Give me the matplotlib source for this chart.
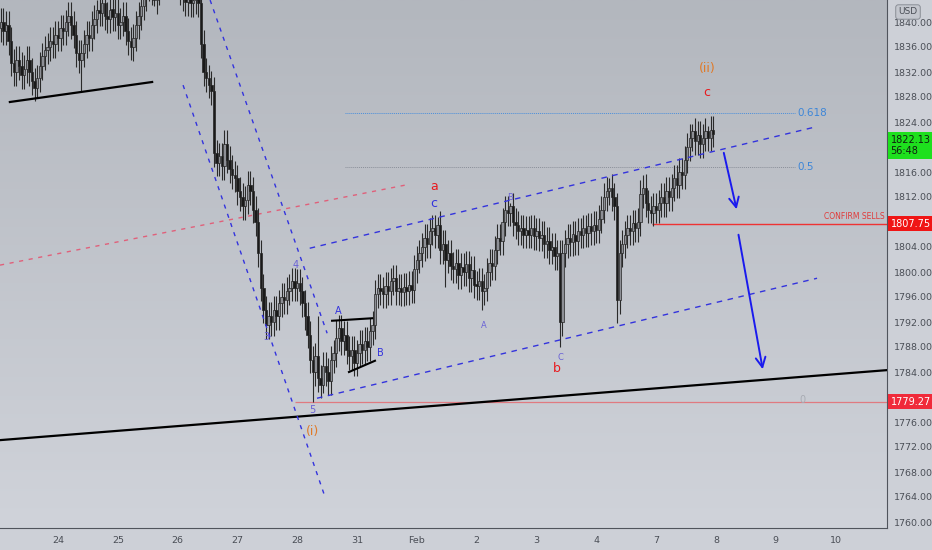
import numpy as np
import matplotlib
matplotlib.use("Agg")
import matplotlib.pyplot as plt
from matplotlib import transforms
from matplotlib.colors import LinearSegmentedColormap

plt.rcParams['font.family'] = ['DejaVu Sans Condensed', 'Liberation Sans Narrow', 'DejaVu Sans']

# ---- data (hourly closes, bar 0 = Jan 21) ----
closes = [
    1840, 1838.5, 1839.5, 1837, 1833.5, 1832, 1834, 1833, 1831.5, 1832.5,
    1834, 1832, 1830.5, 1829.5, 1831, 1833, 1834.5, 1835.5, 1836, 1837,
    1836.5, 1838, 1837.5, 1839, 1838.5, 1840, 1841, 1839.5, 1838, 1835,
    1834, 1835, 1836.5, 1838, 1837.5, 1839.5, 1840.5, 1842, 1841.5, 1843,
    1841, 1840.5, 1842, 1840.8, 1841.5, 1839.5, 1840, 1841, 1838.5, 1837,
    1836, 1837.5, 1839.5, 1841, 1842.5, 1844, 1845.5, 1846.5, 1845, 1843.5,
    1845, 1846.5, 1848, 1849, 1848, 1847, 1848.5, 1847, 1846, 1845,
    1844, 1843.2, 1844, 1843, 1843.5, 1844.2, 1843, 1836.5, 1832, 1831,
    1830, 1829, 1819, 1817.5, 1818.5, 1817, 1820.5, 1818, 1816.5, 1815.5,
    1815, 1813, 1812, 1810.5, 1811.5, 1814, 1813, 1810, 1808, 1803,
    1797.5, 1794, 1791.5, 1793, 1792, 1794, 1793, 1795, 1796, 1795.5,
    1797, 1797.5, 1798.5, 1797.5, 1798.3, 1797, 1795, 1793, 1790, 1786,
    1784, 1786.5, 1783, 1782, 1785, 1784, 1782.5, 1786, 1787, 1789.5,
    1791, 1789, 1790, 1787.5, 1786.5, 1787.5, 1785.5, 1787, 1788.5, 1787.5,
    1789, 1788, 1790.5, 1791.5, 1796.5, 1797.5, 1797, 1796.5, 1797.8, 1797,
    1798.5, 1799, 1797, 1797.5, 1796.8, 1797.6, 1797, 1798, 1797.2, 1800.5,
    1802, 1803, 1804, 1805.5, 1804.5, 1806.5, 1807, 1806, 1807.5, 1803.5,
    1804.5, 1802, 1803, 1801, 1800.5, 1801.5, 1799.5, 1800.8, 1800, 1801.2,
    1799, 1800.3, 1798, 1797.8, 1798.5, 1797, 1797.5, 1800, 1801.5, 1801,
    1803.5, 1805.5, 1805, 1808, 1810, 1809.5, 1810.5, 1808, 1807.5, 1806.5,
    1807, 1806, 1806.8, 1806, 1807, 1805.8, 1806.5, 1805.5, 1806, 1804.5,
    1805, 1803.5, 1804, 1802.5, 1803, 1792, 1803, 1804.5, 1805.5, 1804.8,
    1806, 1805, 1806.5, 1806, 1807, 1806.2, 1807.3, 1806.5, 1807.5, 1806.8,
    1808.5, 1810, 1812, 1813, 1813.5, 1812, 1810.5, 1795.5, 1803, 1804.5,
    1806, 1807, 1806.5, 1807.8, 1807, 1808, 1812.5, 1813.5, 1811, 1810,
    1809.5, 1810.5, 1810, 1811, 1812, 1811, 1813, 1812, 1813.5, 1815,
    1814, 1816, 1815.5, 1818, 1820, 1821.5, 1822.5, 1821, 1822, 1820.5,
    1821.5, 1822.5, 1821.5, 1822.8, 1822.13,
]
first_open = 1839
spike_highs = {25: 1842, 37: 1843.6, 122: 1793, 129: 1792.3, 168: 1808.8,
               196: 1811, 234: 1815, 247: 1815.5, 266: 1823.7, 272: 1823.3}
spike_lows = {14: 1827.8, 31: 1828.8, 50: 1834, 59: 1842.5, 120: 1779.27,
              124: 1780.6, 171: 1797.6, 185: 1793.9, 215: 1788, 237: 1791.8,
              250: 1807.8}

day_labels = ['24', '25', '26', '27', '28', '31', 'Feb', '2', '3', '4', '7', '8', '9', '10']
day_start_bars = [22, 45, 68, 91, 114, 137, 160, 183, 206, 229, 252, 275, 298, 321]
price_ticks = [1760, 1764, 1768, 1772, 1776, 1784, 1788, 1792, 1796, 1800,
               1804, 1812, 1816, 1824, 1828, 1832, 1836, 1840]

last_price = 1822.13
countdown = '56:48'
confirm_level = 1807.75
low_level = 1779.27
fib_levels = [0.5, 0.618]
fib_prices = [1816.8, 1825.5]

# drawings (bar index, price)
support_left = [(3.5, 1827.2), (58.2, 1830.4)]
trend_long = [(-0.3, 1773.1), (340.8, 1784.3)]
impulse_ch1 = [(70.1, 1829.9), (124.7, 1764.0)]
impulse_ch2 = [(80.5, 1843.5), (125.5, 1790.2)]
red_dash = [(-0.3, 1801.1), (155.5, 1813.9)]
channel_up = [(118.8, 1803.8), (313.2, 1823.2)]
channel_low = [(121.6, 1779.8), (313.9, 1799.0)]
tri_a = [(127.4, 1792.2), (142.8, 1792.6)]
tri_b = [(133.9, 1784.0), (143.9, 1785.8)]
arrow1 = [(277.8, 1819.5), (283.2, 1809.6)]
arrow2 = [(283.5, 1806.4), (293.2, 1784.0)]

# ---- figure ----
fig = plt.figure(figsize=(9.32, 5.5), dpi=100)
fig.patch.set_facecolor('#cdd0d7')
ax = fig.add_axes([0, 22 / 550, 887 / 932, 528 / 550])
xmin, xmax = -0.3, 340.8
ymin, ymax = 1759.04, 1843.52
ax.set_xlim(xmin, xmax)
ax.set_ylim(ymin, ymax)

# background gradient (darker at top)
cmap = LinearSegmentedColormap.from_list('bg', ['#d0d3da', '#b3b7be'])
grad = np.linspace(0, 1, 256).reshape(-1, 1)
ax.imshow(grad, cmap=cmap, aspect='auto', extent=[xmin, xmax, ymin, ymax],
          origin='lower', zorder=0)

# candles
n = len(closes)
idx = np.arange(n)
opens = [first_open] + closes[:-1]
highs = [spike_highs.get(i, max(opens[i], closes[i]) + 2.2) for i in range(n)]
lows = [spike_lows.get(i, min(opens[i], closes[i]) - 2.2) for i in range(n)]
ax.vlines(idx, lows, highs, color='#2a2a2a', linewidth=0.8, zorder=3)
for i in range(n):
    o, c = opens[i], closes[i]
    up = c >= o
    h = max(abs(c - o), 0.3)
    ax.bar(i, h, bottom=min(o, c), width=0.9,
           color='#8d8f95' if up else '#1a1a1a',
           edgecolor='#252525', linewidth=0.5, zorder=4)


def seg(pts, **kw):
    (x0, y0), (x1, y1) = pts
    ax.plot([x0, x1], [y0, y1], **kw)


blue = '#3333dd'
seg(support_left, color='black', lw=1.6, zorder=5)
seg(trend_long, color='black', lw=1.6, zorder=5)
seg(impulse_ch1, color=blue, lw=1.0, ls=(0, (3, 4)), zorder=5)
seg(impulse_ch2, color=blue, lw=1.0, ls=(0, (3, 4)), zorder=5)
seg(red_dash, color='#e0607a', lw=1.0, ls=(0, (3, 4)), zorder=2)
seg(channel_up, color=blue, lw=1.0, ls=(0, (4, 4)), zorder=5)
seg(channel_low, color=blue, lw=1.0, ls=(0, (4, 4)), zorder=5)
seg(tri_a, color='black', lw=1.5, zorder=5)
seg(tri_b, color='black', lw=1.5, zorder=5)

# fib levels
fib_start, fib_end = 132.4, 305.5
ax.hlines(fib_prices[1], fib_start, fib_end, color='#4a8fdc', lw=0.7, ls=(0, (1, 1)), zorder=2)
ax.hlines(fib_prices[0], fib_start, fib_end, color='#8a8f99', lw=0.7, ls=(0, (1, 1)), zorder=2)
for lv, pr in zip(fib_levels, fib_prices):
    ax.text(fib_end + 1, pr, str(lv), color='#3d86d8', fontsize=7.5, va='center', ha='left')
ax.text(fib_end + 1.5, low_level + 0.3, '0', color='#a8abb3', fontsize=7, va='center', ha='left')

# horizontal levels
ax.hlines(low_level, 113, xmax, color='#e07a80', lw=0.9, zorder=2)
ax.hlines(confirm_level, 250.5, xmax, color='#ee3333', lw=1.0, zorder=2)
ax.text(340, confirm_level + 1.1, 'CONFIRM SELLS', color='#e03a3a', fontsize=5.5,
        ha='right', va='center')

# arrows
for a in (arrow1, arrow2):
    ax.annotate('', xy=a[1], xytext=a[0],
                arrowprops=dict(arrowstyle='->,head_length=0.7,head_width=0.35',
                                color='#1a1aee', lw=1.4), zorder=6)

# wave labels
orange = '#e07a28'
red = '#e8191e'
purple = '#6a62d6'
labels = [
    ('(ii)', 271.6, 1832.6, orange, 9),
    ('c', 271.6, 1828.8, red, 9),
    ('a', 166.6, 1813.6, red, 9),
    ('c', 166.6, 1810.9, blue, 9),
    ('b', 213.9, 1784.5, red, 9),
    ('B', 195.8, 1812.0, purple, 6),
    ('A', 185.8, 1791.5, purple, 6),
    ('C', 215.1, 1786.4, purple, 6),
    ('A', 129.7, 1793.8, blue, 7),
    ('B', 145.8, 1787.0, blue, 7),
    ('3', 102.0, 1789.6, purple, 7),
    ('4', 113.2, 1801.1, purple, 7),
    ('5', 119.7, 1777.9, purple, 7),
    ('(i)', 119.7, 1774.4, orange, 9),
]
for t, x, y, col, fs in labels:
    ax.text(x, y, t, color=col, fontsize=fs, ha='center', va='center', zorder=7)

# axes styling
for s in ['top', 'left']:
    ax.spines[s].set_visible(False)
ax.spines['right'].set_color('#50545c')
ax.spines['bottom'].set_color('#50545c')
ax.yaxis.tick_right()
ax.set_yticks(price_ticks)
ax.set_yticklabels([f'{p:.2f}' for p in price_ticks])
ax.set_xticks(day_start_bars)
ax.set_xticklabels(day_labels)
ax.tick_params(axis='both', length=0, labelsize=6.8, colors='#4a4e56')
ax.tick_params(axis='y', pad=5)
ax.tick_params(axis='x', pad=6)

# price tags on the axis
tr = transforms.blended_transform_factory(ax.transAxes, ax.transData)
ax.text(1.004, last_price - 1.9, f'{last_price:.2f}\n{countdown}', transform=tr,
        fontsize=7, color='#102010', ha='left', va='center', linespacing=1.15,
        bbox=dict(boxstyle='square,pad=0.3', fc='#1ee01e', ec='none'), zorder=8, clip_on=False)
ax.text(1.004, confirm_level, f'{confirm_level:.2f}', transform=tr,
        fontsize=7, color='white', ha='left', va='center',
        bbox=dict(boxstyle='square,pad=0.3', fc='#f01515', ec='none'), zorder=8, clip_on=False)
ax.text(1.004, low_level, f'{low_level:.2f}', transform=tr,
        fontsize=7, color='white', ha='left', va='center',
        bbox=dict(boxstyle='square,pad=0.3', fc='#f02a3a', ec='none'), zorder=8, clip_on=False)
fig.text(908 / 932, 1 - 12 / 550, 'USD', fontsize=6.5, color='#4a4e56', ha='center', va='center',
         bbox=dict(boxstyle='round,pad=0.3', fc='#c4c7ce', ec='#8a8e96', lw=0.7))

fig.savefig('out.png', dpi=100)
